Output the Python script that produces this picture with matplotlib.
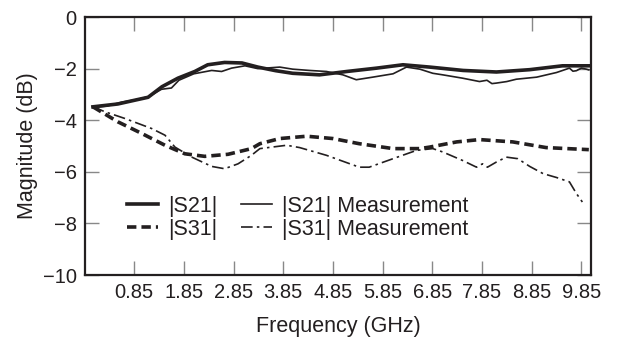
import matplotlib
matplotlib.use('Agg')
import matplotlib.pyplot as plt
import numpy as np

plt.rcParams['font.family'] = ['Liberation Sans', 'DejaVu Sans']
plt.rcParams['xtick.direction'] = 'in'
plt.rcParams['ytick.direction'] = 'in'
plt.rcParams['xtick.top'] = True
plt.rcParams['ytick.right'] = True

ink = '#231f20'

# |S21| simulated
f_s21 = [0.02, 0.52, 0.87, 1.13, 1.41, 1.73, 2.07, 2.33, 2.67, 3.02, 3.34, 3.70, 4.04,
         4.58, 5.13, 5.73, 6.26, 6.80, 7.47, 8.14, 8.81, 9.47, 10.0]
s21 = [-3.48, -3.37, -3.22, -3.11, -2.70, -2.37, -2.11, -1.85, -1.76, -1.78, -1.94, -2.08, -2.18,
       -2.24, -2.11, -1.98, -1.85, -1.94, -2.07, -2.13, -2.04, -1.89, -1.89]

# |S21| measured
f_s21m = [0.02, 0.30, 0.60, 0.90, 1.15, 1.40, 1.60, 1.75, 2.05, 2.41, 2.61, 2.81, 3.08, 3.34,
          3.78, 4.04, 4.38, 4.72, 5.05, 5.32, 5.65, 6.06, 6.33, 6.60, 6.86, 7.06, 7.46,
          7.80, 7.95, 8.05, 8.14, 8.35, 8.54, 8.95, 9.35, 9.61, 9.68, 9.75, 9.85, 9.95, 10.0]
s21m = [-3.50, -3.45, -3.30, -3.20, -3.08, -2.80, -2.75, -2.45, -2.20, -2.07, -2.11, -1.98, -1.89, -2.00,
        -1.94, -2.02, -2.07, -2.11, -2.24, -2.43, -2.33, -2.20, -1.94, -2.02, -2.18, -2.24, -2.37,
        -2.50, -2.45, -2.58, -2.56, -2.50, -2.41, -2.33, -2.15, -1.98, -2.10, -2.08, -1.98, -2.02, -2.05]

# |S31| simulated
f_s31 = [0.02, 0.52, 1.00, 1.47, 1.87, 2.27, 2.74, 3.21, 3.38, 3.78, 4.32, 4.85, 5.38,
         6.06, 6.60, 6.80, 7.34, 7.80, 8.47, 9.14, 10.0]
s31 = [-3.48, -4.06, -4.51, -4.97, -5.30, -5.40, -5.32, -5.10, -4.91, -4.71, -4.62, -4.71, -4.91,
       -5.10, -5.10, -5.04, -4.84, -4.75, -4.84, -5.06, -5.14]

# |S31| measured
f_s31m = [0.02, 0.26, 0.66, 1.20, 1.47, 1.67, 2.01, 2.41, 2.67, 2.94, 3.21, 3.38, 3.92, 4.18,
          4.72, 5.38, 5.58, 6.06, 6.53, 6.86, 7.06, 7.46, 7.74, 7.86, 7.96, 8.14, 8.34, 8.57,
          8.81, 9.08, 9.35, 9.61, 9.75, 9.87]
s31m = [-3.48, -3.67, -3.93, -4.32, -4.58, -5.04, -5.43, -5.79, -5.88, -5.69, -5.36, -5.10, -4.97, -5.06,
        -5.36, -5.82, -5.82, -5.49, -5.17, -5.10, -5.23, -5.56, -5.82, -5.69, -5.82, -5.62, -5.43, -5.49,
        -5.79, -6.07, -6.22, -6.39, -6.84, -7.17]

xticks = [0.85, 1.85, 2.85, 3.85, 4.85, 5.85, 6.85, 7.85, 8.85, 9.85]
yticks = [0, -2, -4, -6, -8, -10]

fig = plt.figure(figsize=(6.18, 3.41), dpi=100)
ax = fig.add_axes([0.1375, 0.1935, 0.8185, 0.7565])

ax.plot(f_s21, s21, color=ink, lw=2.6, label='|S21|', solid_joinstyle='round')
ax.plot(f_s31, s31, color=ink, lw=2.6, ls=(0, (2.6, 1.4)), label='|S31|')
ax.plot(f_s21m, s21m, color=ink, lw=1.2, label='|S21| Measurement', solid_joinstyle='round')
ax.plot(f_s31m, s31m, color=ink, lw=1.2, ls=(0, (7, 2.5, 1.5, 2.5)), label='|S31| Measurement')

ax.set_xlim(-0.14, 10.04)
ax.set_ylim(-10, 0)
ax.set_xticks(xticks)
ax.set_xticklabels([f'{t:.2f}' for t in xticks])
ax.set_yticks(yticks)
ax.set_yticklabels([str(t).replace('-', '\u2212') for t in yticks])
ax.tick_params(length=10, width=1, color='#888888', labelsize=14.5, labelcolor=ink, pad=6)

for s in ax.spines.values():
    s.set_linewidth(1.6)
    s.set_color(ink)

ax.set_xlabel('Frequency (GHz)', fontsize=15.5, color=ink, labelpad=10)
ax.set_ylabel('Magnitude (dB)', fontsize=15.5, color=ink, labelpad=3)

ax.legend(ncol=2, frameon=False, fontsize=15.5, loc='upper left',
          bbox_to_anchor=(0.083, 0.307), handlelength=1.45, handletextpad=0.45,
          columnspacing=1.1, labelspacing=0.1, borderaxespad=0, borderpad=0,
          labelcolor=ink)

fig.savefig('out.png', dpi=100)
